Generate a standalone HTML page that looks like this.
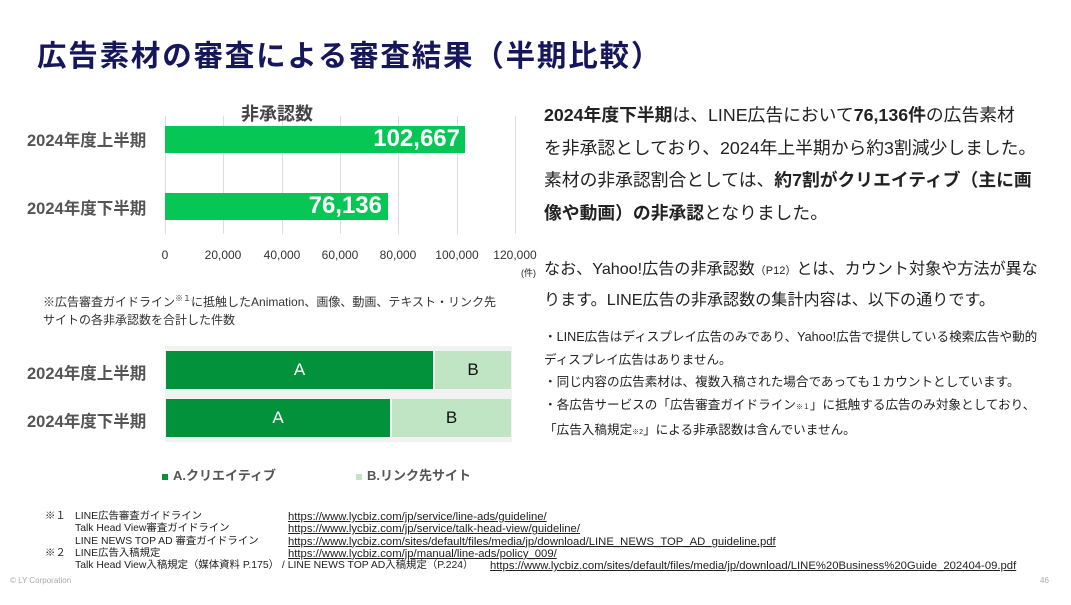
<!DOCTYPE html>
<html><head><meta charset="utf-8"><style>
body{margin:0;width:1071px;height:605px;background:#fff;position:relative;overflow:hidden;font-family:"Liberation Sans","Noto Sans CJK JP",sans-serif;color:#222}
.a{position:absolute;white-space:nowrap}
.lbl{font-weight:bold;font-size:16.5px;color:#555}
.g{position:absolute;top:116px;width:1px;height:118px;background:#ddd}
.tk{position:absolute;top:248px;font-size:12px;color:#333;transform:translateX(-50%)}
.fn{font-size:10.4px;color:#222}
.u{text-decoration:underline;font-size:11.3px}
</style></head><body>
<div class="a" style="left:37px;top:33px;font-size:29.5px;font-weight:bold;color:#16165a;letter-spacing:1.8px">広告素材の審査による審査結果（半期比較）</div>

<div class="g" style="left:165px"></div><div class="g" style="left:223px"></div><div class="g" style="left:282px"></div><div class="g" style="left:340px"></div><div class="g" style="left:398px"></div><div class="g" style="left:457px"></div><div class="g" style="left:515px"></div>
<div class="a" style="left:241px;top:100px;font-size:18px;font-weight:bold;color:#444">非承認数</div>
<div class="a lbl" style="left:27px;top:127px">2024年度上半期</div>
<div class="a lbl" style="left:27px;top:195px">2024年度下半期</div>
<div class="a" style="left:165px;top:126px;width:300px;height:27px;background:#06c755"></div>
<div class="a" style="left:165px;top:193px;width:223px;height:27px;background:#06c755"></div>
<div class="a" style="left:165px;top:125px;width:295px;text-align:right;font-size:24px;font-weight:bold;color:#fff">102,667</div>
<div class="a" style="left:165px;top:192px;width:217px;text-align:right;font-size:24px;font-weight:bold;color:#fff">76,136</div>
<div class="tk" style="left:165px">0</div><div class="tk" style="left:223px">20,000</div><div class="tk" style="left:282px">40,000</div><div class="tk" style="left:340px">60,000</div><div class="tk" style="left:398px">80,000</div><div class="tk" style="left:457px">100,000</div><div class="tk" style="left:515px">120,000</div>
<div class="a" style="left:521px;top:266px;font-size:9px">(件)</div>
<div class="a" style="left:43px;top:290px;font-size:12px;color:#333;line-height:18px">※広告審査ガイドライン<sup style="font-size:8px">※１</sup>に抵触したAnimation、画像、動画、テキスト・リンク先<br>サイトの各非承認数を合計した件数</div>

<div class="a" style="left:165px;top:346px;width:347px;height:96px;background:#f2f2f2"></div>
<div class="a lbl" style="left:27px;top:360px">2024年度上半期</div>
<div class="a lbl" style="left:27px;top:408px">2024年度下半期</div>
<div class="a" style="left:166px;top:351px;width:267px;height:38px;background:#03923c;color:#fff;font-size:17px;text-align:center;line-height:38px">A</div>
<div class="a" style="left:435px;top:351px;width:76px;height:38px;background:#bfe5c4;color:#111;font-size:17px;text-align:center;line-height:38px">B</div>
<div class="a" style="left:166px;top:399px;width:224px;height:38px;background:#03923c;color:#fff;font-size:17px;text-align:center;line-height:38px">A</div>
<div class="a" style="left:392px;top:399px;width:119px;height:38px;background:#bfe5c4;color:#111;font-size:17px;text-align:center;line-height:38px">B</div>
<div class="a" style="left:162px;top:465px;font-size:13px;font-weight:bold;color:#555"><span style="display:inline-block;width:6px;height:6px;background:#03923c;margin-right:5px"></span>A.クリエイティブ</div>
<div class="a" style="left:356px;top:465px;font-size:13px;font-weight:bold;color:#555"><span style="display:inline-block;width:6px;height:6px;background:#bfe5c4;margin-right:5px"></span>B.リンク先サイト</div>

<div class="a" style="left:544px;top:99px;font-size:17.8px;line-height:32.7px">
<b>2024年度下半期</b>は、LINE広告において<b>76,136件</b>の広告素材<br>を非承認としており、2024年上半期から約3割減少しました。<br>素材の非承認割合としては、<b>約7割がクリエイティブ（主に画<br>像や動画）の非承認</b>となりました。</div>
<div class="a" style="left:544px;top:255px;font-size:16.1px;line-height:29px">なお、Yahoo!広告の非承認数<span style="font-size:11px">（P12）</span>とは、カウント対象や方法が異な<br>ります。LINE広告の非承認数の集計内容は、以下の通りです。</div>
<div class="a" style="left:544px;top:326px;font-size:12.6px;line-height:22.5px">・LINE広告はディスプレイ広告のみであり、Yahoo!広告で提供している検索広告や動的<br>ディスプレイ広告はありません。<br>・同じ内容の広告素材は、複数入稿された場合であっても１カウントとしています。<br>・各広告サービスの「広告審査ガイドライン<span style="font-size:7px">※１</span>」に抵触する広告のみ対象としており、<br>「広告入稿規定<span style="font-size:7px">※2</span>」による非承認数は含んでいません。</div>

<div class="a fn" style="left:45px;top:511px;line-height:12.3px">※１<br><br><br>※２</div>
<div class="a fn" style="left:75px;top:511px;line-height:12.3px">LINE広告審査ガイドライン<br>Talk Head View審査ガイドライン<br>LINE NEWS TOP AD 審査ガイドライン<br>LINE広告入稿規定<br>Talk Head View入稿規定（媒体資料 P.175） / LINE NEWS TOP AD入稿規定（P.224）</div>
<div class="a fn u" style="left:288px;top:511px;line-height:12.3px">https://www.lycbiz.com/jp/service/line-ads/guideline/<br>https://www.lycbiz.com/jp/service/talk-head-view/guideline/<br>https://www.lycbiz.com/sites/default/files/media/jp/download/LINE_NEWS_TOP_AD_guideline.pdf<br>https://www.lycbiz.com/jp/manual/line-ads/policy_009/</div>
<div class="a fn u" style="left:490px;top:560px">https://www.lycbiz.com/sites/default/files/media/jp/download/LINE%20Business%20Guide_202404-09.pdf</div>
<div class="a" style="left:10px;top:576px;font-size:8px;color:#aaa">© LY Corporation</div>
<div class="a" style="left:1040px;top:576px;font-size:8px;color:#aaa">46</div>
</body></html>
